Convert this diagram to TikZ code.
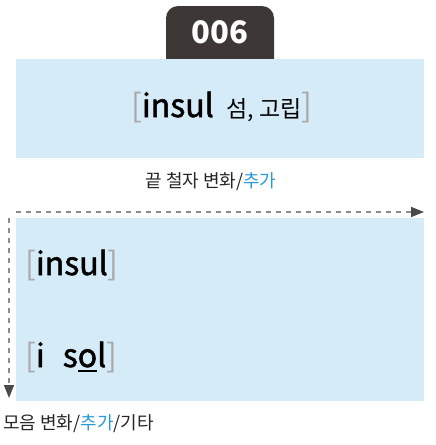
\documentclass[tikz,border=0pt]{standalone}
\usepackage{fontspec}
\setmainfont{Noto Sans CJK KR}
\newfontfamily\wordfont{Noto Sans CJK KR}[FakeBold=1.6]
\usetikzlibrary{arrows.meta}
\definecolor{boxblue}{HTML}{D5EBF8}
\definecolor{tabgray}{HTML}{3D3836}
\definecolor{bracketgray}{HTML}{A8A8A8}
\definecolor{addblue}{HTML}{2A9AD6}
\definecolor{dashgray}{HTML}{8C8C8C}
\definecolor{tipgray}{HTML}{4A4A4A}
\tikzset{x=1pt, y=-1pt, >/.tip={Triangle[length=13pt, width=10pt, color=tipgray]}}
\newcommand{\brk}[1]{{\normalfont\textcolor{bracketgray}{#1}}}
\newcommand{\addtxt}[1]{\textcolor{addblue}{#1}}
\newcommand{\undermark}[1]{\setbox0\hbox{#1}\rlap{\rule[-5pt]{\wd0}{1.6pt}}#1}

\begin{document}
\begin{tikzpicture}[
  panel/.style={fill=boxblue, draw=none, inner sep=0pt},
  guide/.style={->, dashgray, line width=1.5pt, dash pattern=on 5pt off 5pt},
  word/.style={anchor=base west, inner sep=0pt, text=black, font=\fontsize{32}{32}\wordfont},
  tag/.style={inner sep=0pt, text=black!85, font=\fontsize{18}{18}\selectfont}]
 \useasboundingbox (0,0) rectangle (436,445);

 \node[fill=tabgray, rounded corners=12pt, minimum width=108pt, minimum height=74pt] (tab) at (220,43) {};
 \node[text=white, font=\fontsize{31}{31}\selectfont\bfseries] (num) at (220,32) {006};

 \node[panel, minimum width=408pt, minimum height=99pt] (top) at (220,108.5) {};
 \node[word] (head) at (131,117) {\brk{[}insul\hspace{13pt}{\normalfont\fontsize{23}{23}\selectfont 섬, 고립}\brk{]}};

 \node[tag] (endlbl) at (211,182) {끝 철자 변화/\addtxt{추가}};

 \node[panel, minimum width=408pt, minimum height=182.6pt] (low) at (220,309.3) {};
 \node[word] (w1) at (25,275) {\brk{[}insul\brk{]}};
 \node[word] (w2) at (25,367) {\brk{[}i\hspace{18pt}s\undermark{o}l\brk{]}};

 \coordinate (hs) at (16,212);
 \coordinate (he) at (424,212);
 \coordinate (vs) at (9,218);
 \coordinate (ve) at (9,398);
 \draw[guide] (hs) -- (he);
 \draw[guide] (vs) -- (ve);

 \node[tag, anchor=west] (vowlbl) at (3,424) {모음 변화/\addtxt{추가}/기타};
\end{tikzpicture}
\end{document}
